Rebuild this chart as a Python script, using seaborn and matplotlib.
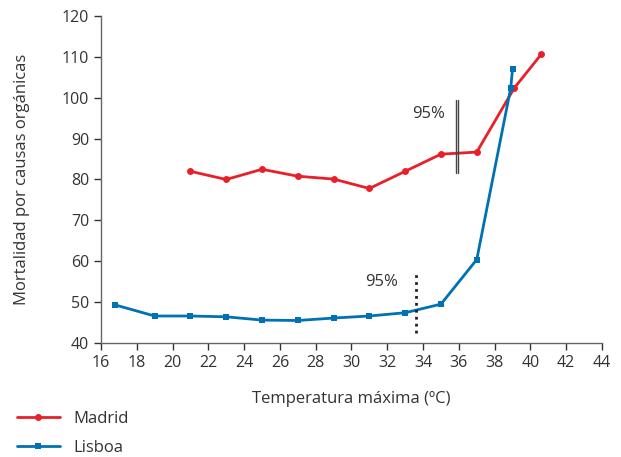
import pandas as pd
import seaborn as sns
import matplotlib.pyplot as plt

# values
madrid_temp = [21, 23, 25, 27, 29, 31, 33, 35, 37, 39.1, 40.6]
madrid_mort = [82.0, 80.0, 82.5, 80.8, 80.1, 77.8, 82.0, 86.2, 86.7, 102.4, 110.6]

lisboa_temp = [16.8, 19, 21, 23, 25, 27, 29, 31, 33, 35, 37, 38.9, 39.0]
lisboa_mort = [49.3, 46.6, 46.6, 46.4, 45.6, 45.5, 46.1, 46.6, 47.4, 49.5, 60.4, 102.4, 107.0]

x_ticks = list(range(16, 45, 2))
y_ticks = list(range(40, 121, 10))

# 95% threshold markers
madrid_p95 = 35.9
lisboa_p95 = 33.6

df = pd.DataFrame({
    'temp': madrid_temp + lisboa_temp,
    'mort': madrid_mort + lisboa_mort,
    'city': ['Madrid'] * len(madrid_temp) + ['Lisboa'] * len(lisboa_temp),
})

sns.set_style('white')
plt.rcParams['font.family'] = ['Open Sans', 'DejaVu Sans']

fig = plt.figure(figsize=(6.21, 4.57), dpi=100)
ax = fig.add_axes([0.1626, 0.2495, 0.8068, 0.7155])

colors = {'Madrid': '#e8202a', 'Lisboa': '#0071b3'}
sns.lineplot(data=df, x='temp', y='mort', hue='city', style='city',
             markers={'Madrid': 'o', 'Lisboa': 's'}, dashes=False,
             palette=colors, estimator=None, sort=False, linewidth=2,
             markersize=5, markeredgewidth=0, ax=ax)

# 95% lines
ax.plot([madrid_p95 - 0.07, madrid_p95 - 0.07], [81.6, 99.4], color='#444444', lw=1)
ax.plot([madrid_p95 + 0.07, madrid_p95 + 0.07], [81.6, 99.4], color='#444444', lw=1)
ax.plot([lisboa_p95, lisboa_p95], [42.4, 57.3], color='#222222', lw=2, ls=(0, (1, 1.5)))
ax.text(34.3, 96, '95%', fontsize=12, color='#333333', ha='center', va='center')
ax.text(31.7, 55, '95%', fontsize=12, color='#333333', ha='center', va='center')

ax.set_xlim(16, 44)
ax.set_ylim(40, 120)
ax.set_xticks(x_ticks)
ax.set_yticks(y_ticks)
ax.tick_params(axis='both', labelsize=11.5, colors='#333333', length=5, width=1,
               direction='out', bottom=True, left=True)
ax.tick_params(axis='x', pad=4)
for s in ['top', 'right']:
    ax.spines[s].set_visible(False)
for s in ['left', 'bottom']:
    ax.spines[s].set_color('#666666')
    ax.spines[s].set_linewidth(1)

ax.set_xlabel('Temperatura máxima (ºC)', fontsize=12, color='#333333', labelpad=14)
ax.set_ylabel('Mortalidad por causas orgánicas', fontsize=12, color='#333333', labelpad=23)

handles, labels = ax.get_legend_handles_labels()
ax.legend(handles, labels, loc='upper left', bbox_to_anchor=(0.027, 0.1),
          bbox_transform=fig.transFigure, frameon=False, fontsize=12,
          borderpad=0, borderaxespad=0,
          handlelength=2.6, handletextpad=0.8, labelspacing=0.78, labelcolor='#333333')

fig.savefig('out.png', dpi=100)
